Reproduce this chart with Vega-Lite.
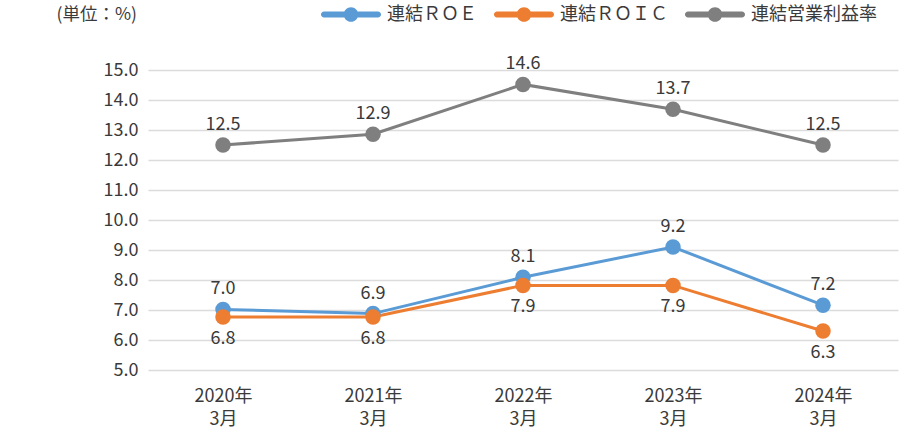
{
  "$schema": "https://vega.github.io/schema/vega-lite/v6.json",
  "width": 750,
  "height": 300,
  "autosize": "none",
  "padding": {"left": 148, "top": 70, "right": 2, "bottom": 70},
  "background": "white",
  "config": {"font": "Noto Sans CJK JP", "view": {"stroke": null}},
  "data": {
    "values": [
      {"period": "2020年3月", "series": "連結営業利益率", "value": 12.5, "label": "12.5"},
      {"period": "2021年3月", "series": "連結営業利益率", "value": 12.86, "label": "12.9"},
      {"period": "2022年3月", "series": "連結営業利益率", "value": 14.52, "label": "14.6"},
      {"period": "2023年3月", "series": "連結営業利益率", "value": 13.69, "label": "13.7"},
      {"period": "2024年3月", "series": "連結営業利益率", "value": 12.5, "label": "12.5"},
      {"period": "2020年3月", "series": "連結ＲＯＥ", "value": 7.02, "label": "7.0"},
      {"period": "2021年3月", "series": "連結ＲＯＥ", "value": 6.88, "label": "6.9"},
      {"period": "2022年3月", "series": "連結ＲＯＥ", "value": 8.09, "label": "8.1"},
      {"period": "2023年3月", "series": "連結ＲＯＥ", "value": 9.1, "label": "9.2"},
      {"period": "2024年3月", "series": "連結ＲＯＥ", "value": 7.16, "label": "7.2"},
      {"period": "2020年3月", "series": "連結ＲＯＩＣ", "value": 6.77, "label": "6.8"},
      {"period": "2021年3月", "series": "連結ＲＯＩＣ", "value": 6.77, "label": "6.8"},
      {"period": "2022年3月", "series": "連結ＲＯＩＣ", "value": 7.82, "label": "7.9"},
      {"period": "2023年3月", "series": "連結ＲＯＩＣ", "value": 7.82, "label": "7.9"},
      {"period": "2024年3月", "series": "連結ＲＯＩＣ", "value": 6.3, "label": "6.3"}
    ]
  },
  "encoding": {
    "x": {
      "field": "period",
      "type": "ordinal",
      "sort": null,
      "scale": {"type": "point", "padding": 0.5},
      "axis": {
        "title": null,
        "labelAngle": 0,
        "domain": false,
        "ticks": false,
        "grid": false,
        "labelFontSize": 18,
        "labelColor": "#3a3a3a",
        "labelPadding": 17,
        "labelLineHeight": 23.5,
        "labelExpr": "[slice(datum.label, 0, 5), slice(datum.label, 5)]"
      }
    },
    "y": {
      "field": "value",
      "type": "quantitative",
      "scale": {"domain": [5, 15], "nice": false, "zero": false},
      "axis": {
        "title": "(単位：%)",
        "titleAngle": 0,
        "titleX": -92,
        "titleY": -55.5,
        "titleAlign": "left",
        "titleBaseline": "middle",
        "titleFontSize": 17.5,
        "titleFontWeight": "normal",
        "titleColor": "#3a3a3a",
        "format": ".1f",
        "values": [5, 6, 7, 8, 9, 10, 11, 12, 13, 14, 15],
        "domain": false,
        "ticks": false,
        "labelFontSize": 18,
        "labelColor": "#3a3a3a",
        "labelPadding": 10,
        "gridColor": "#dcdcdc",
        "gridWidth": 1.5
      }
    }
  },
  "layer": [
    {
      "mark": {"type": "line", "strokeWidth": 3, "strokeCap": "round"},
      "encoding": {
        "color": {
          "field": "series",
          "type": "nominal",
          "scale": {"domain": ["連結ＲＯＥ", "連結ＲＯＩＣ", "連結営業利益率"], "range": ["#5B9BD5", "#ED7D31", "#7F7F7F"]},
          "legend": {
            "orient": "none",
            "legendX": 193,
            "legendY": -65.5,
            "direction": "horizontal",
            "title": null,
            "symbolType": "M-2.7,-0.3 L2.7,-0.3 A0.3,0.3 0 0,1 2.7,0.3 L-2.7,0.3 A0.3,0.3 0 0,1 -2.7,-0.3 Z M0.73,0 A0.73,0.73 0 1,1 -0.73,0 A0.73,0.73 0 1,1 0.73,0 Z",
            "symbolSize": 400,
            "symbolStrokeWidth": 0,
            "labelFontSize": 18,
            "labelColor": "#3a3a3a",
            "labelOffset": 26,
            "columnPadding": 17,
            "encode": {"symbols": {"update": {"fill": {"scale": "color", "field": "value"}, "strokeWidth": {"value": 0}, "opacity": {"value": 1}}}}
          }
        }
      }
    },
    {
      "mark": {"type": "point", "filled": true, "opacity": 1, "size": 240},
      "encoding": {
        "color": {"field": "series", "type": "nominal"}
      }
    },
    {
      "transform": [{"filter": "datum.series !== '連結ＲＯＩＣ'"}],
      "mark": {"type": "text", "dy": -20, "fontSize": 18, "color": "#3a3a3a", "baseline": "middle"},
      "encoding": {"text": {"field": "label"}}
    },
    {
      "transform": [{"filter": "datum.series === '連結ＲＯＩＣ'"}],
      "mark": {"type": "text", "dy": 22, "fontSize": 18, "color": "#3a3a3a", "baseline": "middle"},
      "encoding": {"text": {"field": "label"}}
    }
  ]
}
